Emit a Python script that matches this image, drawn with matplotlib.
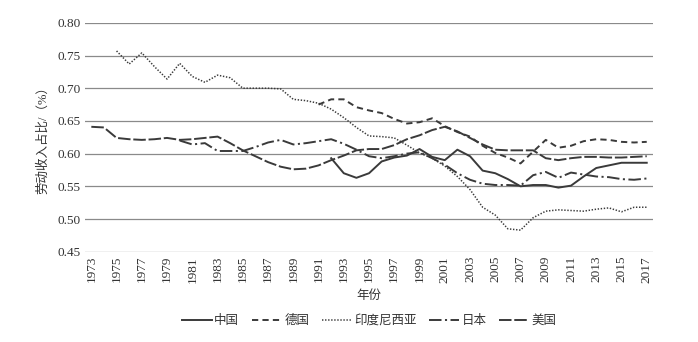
import matplotlib
matplotlib.use("Agg")
import matplotlib.pyplot as plt
import numpy as np

plt.rcParams["font.family"] = ["Liberation Serif", "DejaVu Serif", "Noto Sans CJK SC"]
plt.rcParams["lines.scale_dashes"] = False

# labour share by country, start year + yearly values
us_start = 1973
us = [0.641, 0.640, 0.624, 0.622, 0.621, 0.622, 0.624, 0.621, 0.622, 0.624,
      0.626, 0.616, 0.605, 0.596, 0.587, 0.580, 0.576, 0.577, 0.582, 0.590,
      0.597, 0.605, 0.607, 0.607, 0.613, 0.622, 0.628, 0.636, 0.641, 0.634,
      0.624, 0.614, 0.606, 0.605, 0.605, 0.605, 0.593, 0.590, 0.593, 0.595,
      0.595, 0.594, 0.594, 0.595, 0.596]

japan_start = 1980
japan = [0.620, 0.614, 0.616, 0.604, 0.604, 0.604,
         0.610, 0.617, 0.621, 0.614, 0.616,
         0.619, 0.622, 0.615, 0.606, 0.596,
         0.593, 0.596, 0.600, 0.602, 0.593,
         0.583, 0.570, 0.560, 0.554, 0.552,
         0.552, 0.551, 0.567, 0.572, 0.563,
         0.571, 0.568, 0.565, 0.564, 0.561,
         0.560, 0.562]

china_start = 1992
china = [0.593, 0.570, 0.563, 0.570, 0.588, 0.594, 0.597, 0.607, 0.595, 0.590,
         0.606, 0.596, 0.574, 0.570, 0.561, 0.550, 0.552, 0.552, 0.548, 0.551,
         0.565, 0.578, 0.582, 0.586, 0.586, 0.586]

germany_start = 1991
germany = [0.675, 0.683, 0.683, 0.671, 0.666, 0.662, 0.653, 0.646, 0.648, 0.654,
           0.642, 0.633, 0.626, 0.612, 0.601, 0.594, 0.585, 0.603, 0.621, 0.609,
           0.612, 0.619, 0.622, 0.621, 0.618, 0.617, 0.618]

indonesia_start = 1975
indonesia = [0.757, 0.737, 0.754, 0.733, 0.714, 0.738, 0.718, 0.709, 0.720, 0.716,
             0.700, 0.700, 0.700, 0.699, 0.683, 0.681, 0.677, 0.668, 0.655, 0.640,
             0.627, 0.626, 0.624, 0.613, 0.601, 0.593, 0.581, 0.565, 0.545, 0.518,
             0.506, 0.485, 0.483, 0.502, 0.512, 0.514, 0.513, 0.512, 0.515, 0.517,
             0.511, 0.518, 0.518]

tick_years = list(range(1973, 2018, 2))
y_ticks = [0.45, 0.50, 0.55, 0.60, 0.65, 0.70, 0.75, 0.80]

series = [
    ("中国", china_start, china, "-"),
    ("德国", germany_start, germany, (0, (4.5, 3))),
    ("印度尼西亚", indonesia_start, indonesia, (0, (1.0, 1.2))),
    ("日本", japan_start, japan, (0, (9, 2.5, 1.5, 2.5))),
    ("美国", us_start, us, (0, (9, 2))),
]

line_color = "#3a3a3a"

fig = plt.figure(figsize=(6.98, 3.42), dpi=100)
ax = fig.add_axes([0.1218, 0.264, 0.8138, 0.6693])

for name, start, vals, style in series:
    yrs = np.arange(start, start + len(vals))
    lw = 1.1 if name == "印度尼西亚" else 1.4
    ax.plot(yrs, vals, color=line_color, lw=lw, linestyle=style, label=name)

ax.set_xlim(1972.5, 2017.5)
ax.set_ylim(0.45, 0.80)
ax.set_yticks(y_ticks)
ax.set_yticklabels([f"{v:.2f}" for v in y_ticks], fontsize=9.5)
ax.set_xticks(tick_years)
ax.set_xticklabels([str(y) for y in tick_years], rotation=90, fontsize=9.5)
ax.tick_params(axis="both", length=0, pad=3, colors="#333333")
ax.grid(axis="y", color="#8a8a8a", lw=0.9)
ax.set_axisbelow(True)
for side in ax.spines.values():
    side.set_visible(False)

ax.set_ylabel("劳动收入占比/（%）", fontsize=9, color="#333333", labelpad=6)
fig.text(0.529, 0.135, "年份", ha="center", va="center", fontsize=9, color="#333333")

fig.legend(loc="center", bbox_to_anchor=(0.529, 0.062), ncol=5, frameon=False,
           fontsize=9, handlelength=2.4, handletextpad=0.2, columnspacing=1.0,
           labelcolor="#333333")

fig.savefig("out.png", dpi=100)
